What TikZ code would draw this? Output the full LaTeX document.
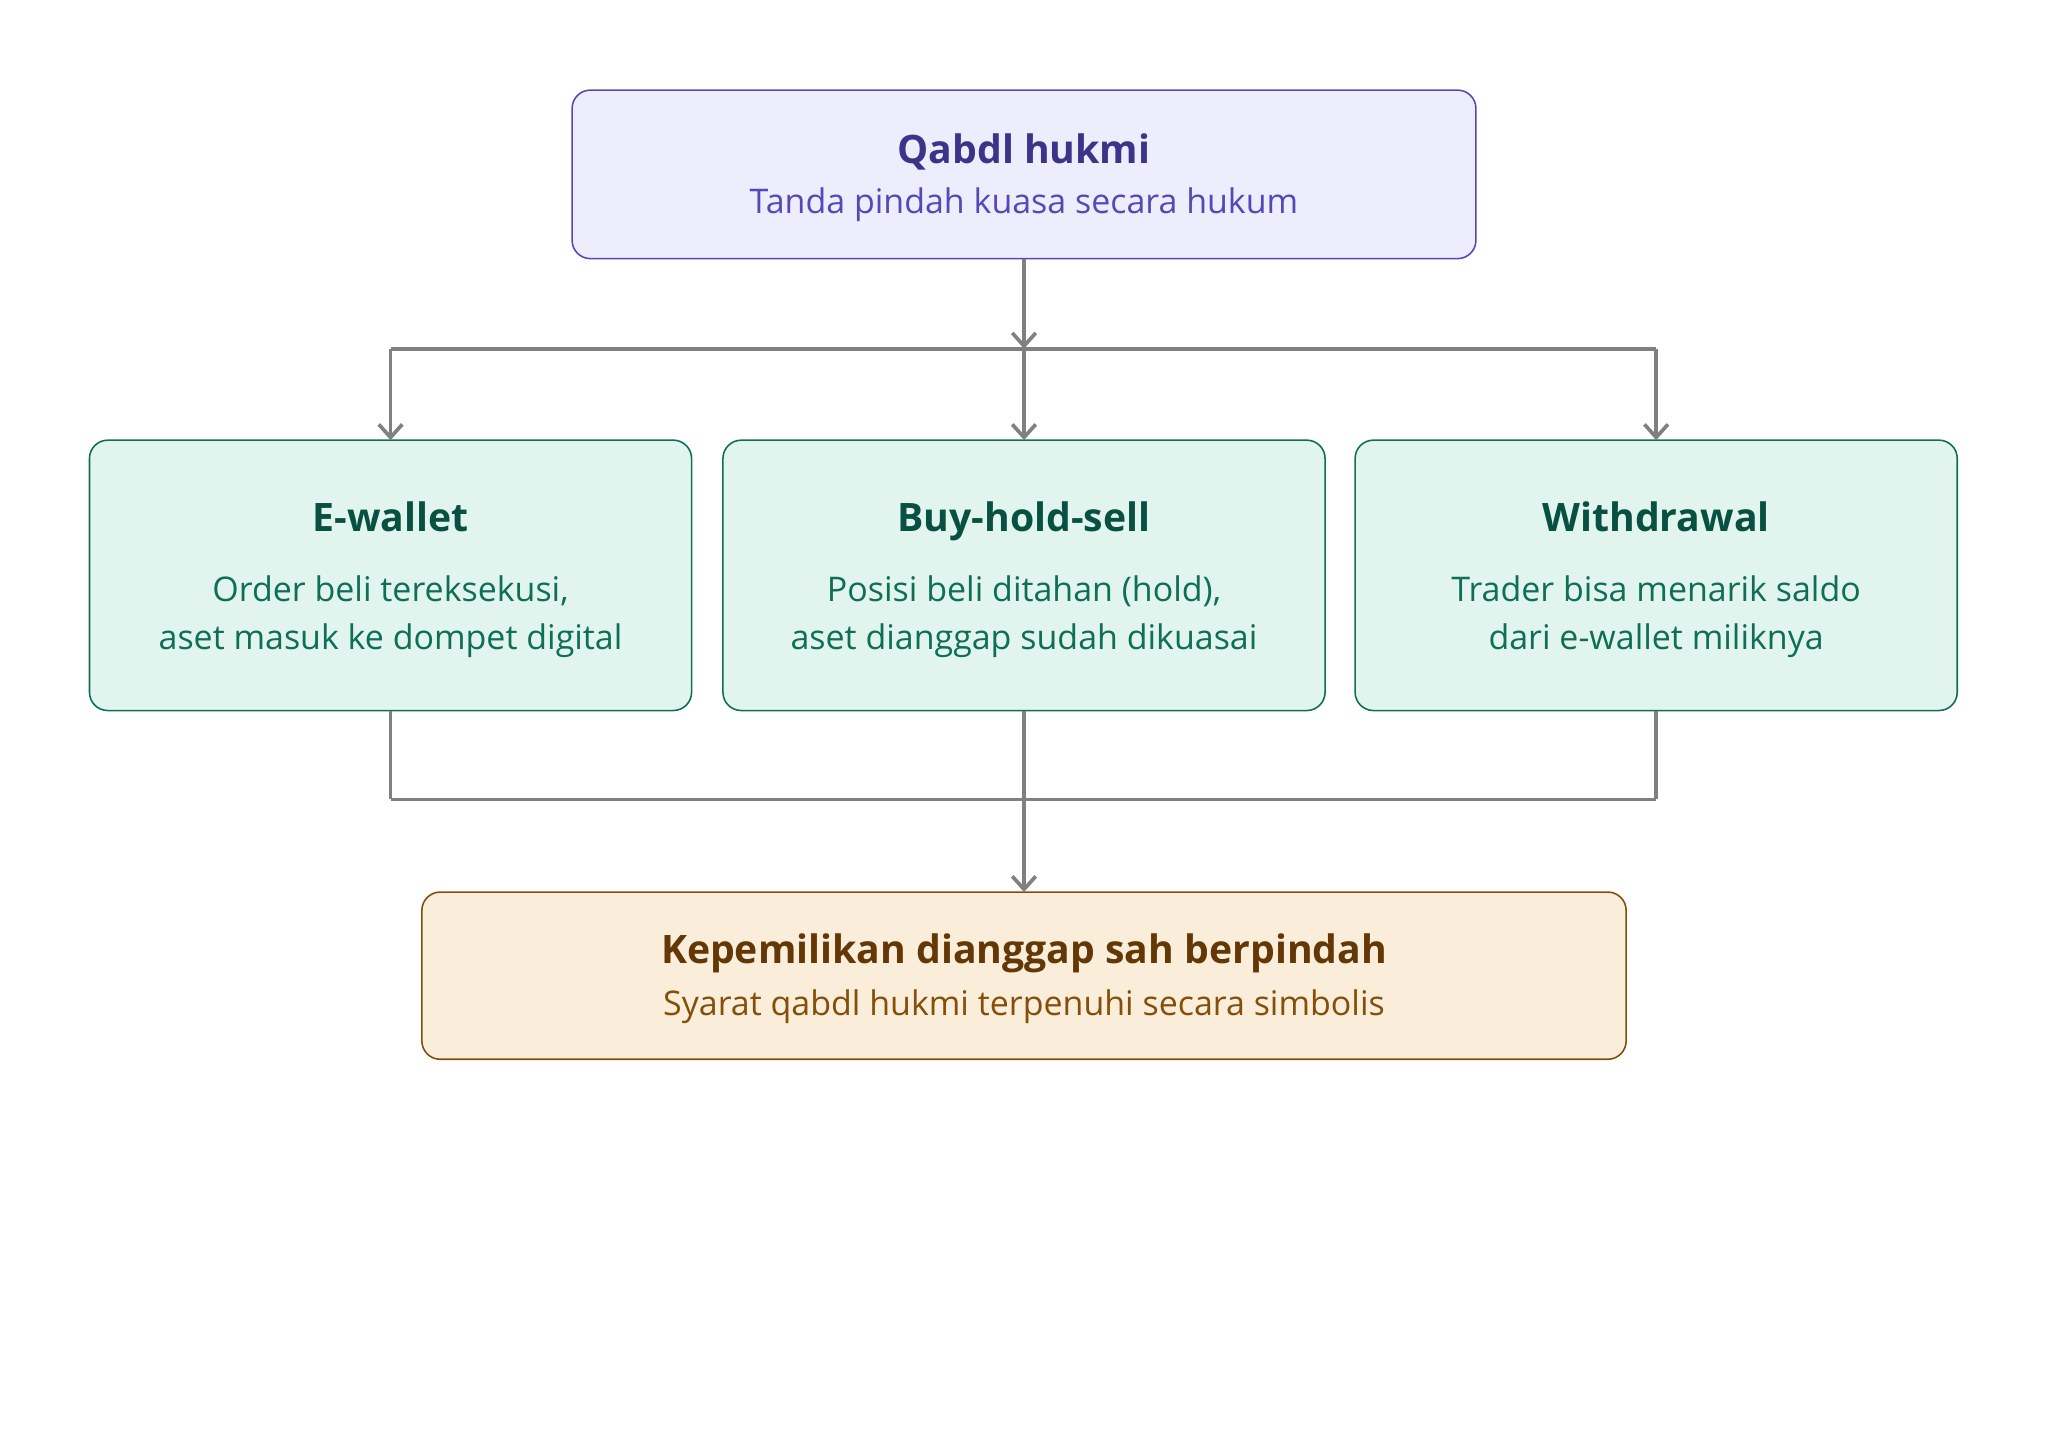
\documentclass[tikz,border=0pt]{standalone}
\usepackage{fontspec}
\setmainfont{Open Sans}
\usetikzlibrary{arrows.meta}
\definecolor{pf}{HTML}{EEEDFE}\definecolor{pd}{HTML}{534AB7}\definecolor{pt}{HTML}{3C3489}
\definecolor{gf}{HTML}{E1F5EE}\definecolor{gd}{HTML}{0F6E56}\definecolor{gt}{HTML}{085041}
\definecolor{of}{HTML}{FAEEDA}\definecolor{od}{HTML}{854F0B}\definecolor{ot}{HTML}{633806}
\definecolor{ln}{HTML}{808080}
\begin{document}
\begin{tikzpicture}[x=0.5pt,y=-0.5pt,
 box/.style={draw,rounded corners=7pt,line width=0.6pt},
 ttl/.style={font=\fontsize{15}{18}\selectfont\bfseries},
 sub/.style={font=\fontsize{13}{18.5}\selectfont,align=center},
 con/.style={draw=ln,line width=1.4pt},
 arr/.style={con,-{Straight Barb[length=5pt,width=9pt]}}]
\useasboundingbox (0,0) rectangle (1568,1107);
\draw[box,draw=pd,fill=pf] (438,69) rectangle (1130,198);
\node[ttl,text=pt] (t1) at (784,116) {Qabdl hukmi};
\node[sub,text=pd] (t2) at (784,157) {Tanda pindah kuasa secara hukum};
\foreach \x/\n/\t/\s in {299/a/E-wallet/{Order beli tereksekusi,\\aset masuk ke dompet digital},
 784/b/Buy-hold-sell/{Posisi beli ditahan (hold),\\aset dianggap sudah dikuasai},
 1268/c/Withdrawal/{Trader bisa menarik saldo\\dari e-wallet miliknya}}{
 \draw[box,draw=gd,fill=gf] (\x-230.5,337) rectangle (\x+230.5,544);
 \node[ttl,text=gt,anchor=base] (\n t) at (\x,407) {\t};
 \node[sub,text=gd] (\n s) at (\x,472) {\s};
 \coordinate (\n top) at (\x,337); \coordinate (\n bot) at (\x,544);
 \coordinate (\n h1) at (\x,267); \coordinate (\n h2) at (\x,612);
}
\draw[box,draw=od,fill=of] (323,683) rectangle (1245,811);
\node[ttl,text=ot] (k1) at (784,730) {Kepemilikan dianggap sah berpindah};
\node[sub,text=od] (k2) at (784,771) {Syarat qabdl hukmi terpenuhi secara simbolis};
\coordinate (topb) at (784,198); \coordinate (kt) at (784,683);
\draw[arr] (topb) -- (bh1);
\draw[con] (ah1) -- (ch1);
\foreach \n in {a,b,c}{\draw[arr] (\n h1) -- (\n top); \draw[con] (\n bot) -- (\n h2);}
\draw[con] (ah2) -- (ch2);
\draw[arr] (bh2) -- (kt);
\end{tikzpicture}
\end{document}
